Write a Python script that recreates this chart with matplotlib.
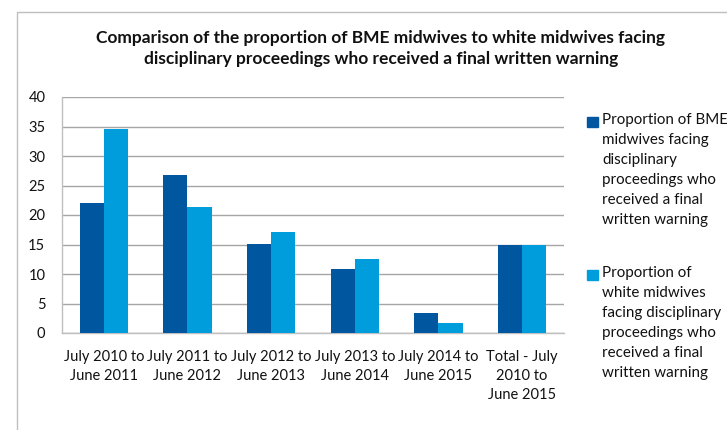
import matplotlib.pyplot as plt
from matplotlib.patches import Rectangle
import numpy as np

plt.rcParams['font.family'] = ['Lato', 'DejaVu Sans']

periods = ['July 2010 to\nJune 2011', 'July 2011 to\nJune 2012', 'July 2012 to\nJune 2013',
           'July 2013 to\nJune 2014', 'July 2014 to\nJune 2015', 'Total - July\n2010 to\nJune 2015']
bme = [22.0, 26.8, 15.1, 10.9, 3.4, 15.0]
white = [34.6, 21.4, 17.1, 12.6, 1.7, 14.9]
legend_labels = ['Proportion of BME\nmidwives facing\ndisciplinary\nproceedings who\nreceived a final\nwritten warning',
                 'Proportion of\nwhite midwives\nfacing disciplinary\nproceedings who\nreceived a final\nwritten warning']
dark = '#00569F'
light = '#009DDC'

W, H = 727, 430
fig = plt.figure(figsize=(W / 100, H / 100), dpi=100)
ax = fig.add_axes([62 / W, 1 - 333 / H, (564 - 62) / W, (333 - 97) / H])

x = np.arange(len(periods))
bw = 0.288
ax.bar(x - bw / 2, bme, bw, color=dark, zorder=3)
ax.bar(x + bw / 2, white, bw, color=light, zorder=3)

ax.set_xlim(-0.5, len(periods) - 0.5)
ax.set_ylim(0, 40)
ax.set_yticks(range(0, 41, 5))
ax.set_xticks(x)
ax.set_xticklabels(periods, fontsize=10.5, linespacing=1.45)
ax.tick_params(axis='both', length=0, colors='#111111', labelsize=10.5)
ax.tick_params(axis='x', pad=12)
ax.tick_params(axis='y', pad=12)
ax.yaxis.grid(True, color='#A6A6A6', lw=1, zorder=0)
for s in ['top', 'right']:
    ax.spines[s].set_visible(False)
for s in ['left', 'bottom']:
    ax.spines[s].set_color('#BFBFBF')
    ax.spines[s].set_linewidth(1)

fig.text(381 / W, 1 - 48.5 / H,
         'Comparison of the proportion of BME midwives to white midwives facing\n'
         'disciplinary proceedings who received a final written warning',
         ha='center', va='center', fontsize=12.5, fontweight='bold', linespacing=1.4,
         color='#111111')

# legend
for lab, col, ytop in zip(legend_labels, [dark, light], [113, 266]):
    fig.patches.append(Rectangle((587 / W, 1 - (ytop + 14) / H), 10.5 / W, 10.5 / H,
                                 transform=fig.transFigure, color=col))
    fig.text(602 / W, 1 - ytop / H, lab, ha='left', va='top', fontsize=10.9,
             linespacing=1.55, color='#111111')

# chart border
fig.patches.append(Rectangle((17 / W, -0.05), 1.1, 1 - 12 / H + 0.05,
                             transform=fig.transFigure, fill=False,
                             edgecolor='#BFBFBF', lw=1))

fig.savefig('out.png', dpi=100, facecolor='white')
